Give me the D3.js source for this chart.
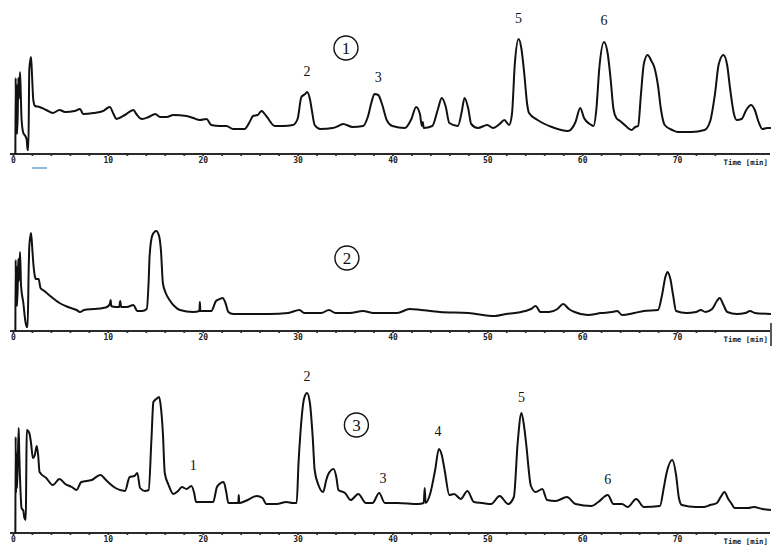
<!DOCTYPE html>
<html>
<head>
<meta charset="utf-8">
<script src="https://cdn.jsdelivr.net/npm/d3@7"></script>
<style>
  html, body { margin: 0; padding: 0; background: #fff; }
  svg { display: block; }
</style>
</head>
<body>
<div id="chart"></div>
<script>
const WIDTH = 772;
const HEIGHT = 557;

// [time (min), signal height]
const trace1 = [
  [0.25,0],[0.28,76],[0.32,30],[0.36,70],[0.42,20],[0.5,40],[0.56,76],[0.62,55],[0.74,82],[0.82,60],
  [0.9,35],[1.09,21],[1.3,18],[1.45,14],[1.54,4],[1.62,4],[1.72,85],[1.9,97],[2.0,80],[2.14,54],
  [2.32,48],[2.8,47],[3.5,44],[4.2,41],[4.9,44],[5.5,42],[6.5,43],[7.06,45],[7.4,40],[8.5,41],
  [9.5,43],[10.2,47],[10.6,40],[10.9,35],[11.8,39],[12.7,44],[13.0,40],[13.6,35],[14.3,37],[15.0,40],
  [15.5,37],[16.2,37],[16.9,39],[18.3,38],[19.0,36],[19.7,34],[20.4,35],[20.9,29],[21.8,28],[22.5,28],
  [23.2,25],[24.4,25],[25.0,33],[25.3,38],[25.8,39],[26.2,43],[26.7,38],[27.6,28],[28.5,28],[29.5,29],
  [30.0,35],[30.4,57],[30.8,60],[31.0,62],[31.3,55],[31.5,44],[31.8,29],[32.4,25],[33.7,26],[34.3,28],
  [34.8,30],[35.8,27],[36.9,28],[37.4,37],[37.8,52],[38.1,60],[38.5,59],[38.9,50],[39.4,34],[40.0,28],
  [41.3,26],[42.0,35],[42.5,47],[42.9,40],[43.1,28],[43.2,32],[43.3,26],[44.2,28],[44.8,45],[45.2,56],
  [45.6,48],[46.0,31],[46.9,28],[47.3,42],[47.6,56],[48.0,45],[48.3,30],[49.0,26],[50.0,29],[50.6,26],
  [51.3,30],[51.8,34],[52.3,29],[52.6,40],[52.9,90],[53.3,115],[53.6,105],[53.9,80],[54.2,50],[54.4,41],
  [55.3,34],[56.8,27],[58.5,23],[59.3,32],[59.8,46],[60.2,36],[60.8,30],[61.2,28],[61.5,45],[61.8,85],
  [62.3,112],[62.7,100],[63.0,75],[63.3,45],[63.6,36],[64.0,33],[64.6,28],[65.2,24],[65.6,27],[65.9,28],
  [66.2,60],[66.5,90],[66.9,99],[67.3,93],[67.6,87],[68.0,68],[68.3,45],[68.7,29],[69.5,24],[70.1,22],
  [71.5,22],[72.9,24],[73.5,33],[74.0,60],[74.4,90],[74.9,99],[75.3,88],[75.6,65],[76.0,40],[76.3,34],
  [76.8,35],[77.3,44],[77.8,49],[78.2,44],[78.6,32],[79.0,25],[79.5,26],[79.9,26]
];

const trace2 = [
  [0.25,0],[0.28,71],[0.32,30],[0.36,65],[0.42,25],[0.5,45],[0.56,72],[0.62,50],[0.74,79],[0.85,45],
  [1.09,28],[1.3,10],[1.45,4],[1.54,4],[1.65,60],[1.72,85],[1.9,98],[2.05,80],[2.14,68],[2.3,55],
  [2.4,52],[2.7,52],[2.9,43],[3.3,40],[3.8,36],[4.9,28],[5.8,24],[6.7,21],[7.06,19],[7.5,21],
  [8.5,22],[9.5,23],[9.9,24],[10.2,27],[10.3,31],[10.35,25],[10.8,24],[11.2,24],[11.3,30],[11.4,24],
  [12.0,24],[12.7,26],[13.1,20],[13.6,20],[14.1,22],[14.3,50],[14.4,75],[14.7,96],[15.1,100],[15.4,95],
  [15.6,80],[15.8,48],[16.1,38],[16.5,31],[17.0,25],[17.6,21],[19.0,19],[19.65,20],[19.7,29],[19.75,20],
  [20.3,20],[20.9,20],[21.4,30],[21.8,32],[22.1,33],[22.4,28],[22.7,19],[23.2,17],[25,17],[27,17],
  [29,18],[30.2,21],[30.7,18],[32.5,18],[33.3,21],[34.0,18],[35.5,18],[36.9,20],[38,18],[39.2,18],
  [40.5,18],[41.8,22],[43,21],[45,19],[48,18],[50.8,15],[52,17],[54,20],[54.6,22],[55.1,25],
  [55.6,19],[56.5,19],[57.4,22],[58.0,27],[58.6,22],[59.2,19],[60.6,16],[62,18],[63.2,19],[63.7,20],
  [64.2,16],[65.5,18],[66.5,20],[68.0,21],[68.4,35],[68.8,55],[69.0,59],[69.3,52],[69.6,35],[69.9,20],
  [71.0,18],[72.0,19],[72.5,21],[73.0,19],[73.7,22],[74.2,30],[74.5,33],[74.9,26],[75.3,19],[76.3,17],
  [77.2,18],[77.7,20],[78.2,18],[79.9,17]
];

const trace3 = [
  [0.25,0],[0.28,96],[0.32,40],[0.36,80],[0.42,45],[0.5,70],[0.6,105],[0.66,80],[0.72,60],[0.8,40],
  [0.9,25],[1.1,22],[1.2,15],[1.35,13],[1.4,60],[1.45,103],[1.6,102],[1.75,99],[1.9,90],[2.1,75],
  [2.3,78],[2.5,87],[2.65,78],[2.8,61],[3.5,55],[4.2,48],[4.9,54],[5.5,49],[6.2,46],[6.7,43],
  [7.2,51],[8.3,53],[9.2,58],[9.9,52],[10.8,45],[11.8,42],[12.3,56],[12.8,57],[13.1,60],[13.4,45],
  [13.9,42],[14.3,43],[14.6,95],[14.8,131],[15.1,134],[15.4,136],[15.6,125],[15.8,100],[16.0,60],[16.4,48],
  [16.9,39],[17.4,42],[17.8,46],[18.3,44],[18.8,47],[19.1,40],[19.3,31],[20.2,31],[21.1,31],[21.5,46],
  [21.9,50],[22.2,51],[22.5,40],[22.7,30],[23.3,30],[23.75,30],[23.8,38],[23.85,30],[24.5,32],[25.7,37],
  [26.3,35],[26.7,29],[27.8,29],[28.8,31],[29.5,30],[29.9,30],[30.1,70],[30.3,100],[30.7,135],[31.0,140],
  [31.3,130],[31.6,95],[31.8,63],[32.2,48],[32.7,41],[33.0,52],[33.2,58],[33.8,64],[34.1,55],[34.3,43],
  [35.0,40],[35.6,33],[36.4,39],[37.2,30],[37.9,30],[38.6,40],[39.2,30],[40.5,30],[42.7,29],[43.3,30],
  [43.4,45],[43.5,30],[44.0,40],[44.5,63],[44.9,84],[45.2,78],[45.5,63],[46.0,38],[46.5,39],[47.2,34],
  [47.9,42],[48.6,31],[49.5,30],[50.4,29],[51.3,37],[52.2,29],[52.8,36],[53.2,90],[53.6,120],[53.9,105],
  [54.1,89],[54.6,47],[55.1,41],[55.8,44],[56.3,33],[57.2,32],[58.4,36],[59.3,29],[61.0,27],[61.7,31],
  [62.7,38],[63.3,29],[64.2,29],[64.8,26],[65.7,34],[66.5,26],[68.2,27],[68.6,45],[68.9,60],[69.5,73],
  [69.9,58],[70.2,35],[70.5,28],[72.0,26],[72.8,26],[73.5,28],[74.2,30],[74.6,36],[75.0,41],[75.4,34],
  [75.7,30],[76.1,25],[77.5,25],[78.1,26],[79.0,24],[79.9,23]
];

// peak labels: [time, height, text]
const peaks1 = [[31.0, 83, '2'], [38.5, 77, '3'], [53.3, 136, '5'], [62.3, 134, '6']];
const peaks2 = [];
const peaks3 = [[19.0, 68, '1'], [31.0, 157, '2'], [39.0, 55, '3'], [44.8, 102, '4'], [53.6, 136, '5'], [62.7, 54, '6']];

// circled sample numbers: [time, height, text]
const sample1 = [35.1, 106, '1'];
const sample2 = [35.2, 73, '2'];
const sample3 = [36.2, 108, '3'];

const tickValues = d3.range(0, 76, 2);
const labelledTicks = [0, 10, 20, 30, 40, 50, 60, 70];
const axisTitle = 'Time [min]';

const panels = [
  {trace: trace1, peaks: peaks1, sample: sample1, axisY: 154},
  {trace: trace2, peaks: peaks2, sample: sample2, axisY: 331},
  {trace: trace3, peaks: peaks3, sample: sample3, axisY: 533},
];

const svg = d3.select('#chart').append('svg')
  .attr('width', WIDTH)
  .attr('height', HEIGHT)
  .attr('viewBox', `0 0 ${WIDTH} ${HEIGHT}`);

svg.append('rect').attr('width', WIDTH).attr('height', HEIGHT).attr('fill', '#fff');

const x = d3.scaleLinear().domain([0, 80]).range([13, 13 + 80 * 9.486]);

for (const p of panels) {
  const y = d3.scaleLinear().domain([0, 150]).range([p.axisY, p.axisY - 150]);
  const g = svg.append('g');

  // axis
  const axis = d3.axisBottom(x)
    .tickValues(tickValues)
    .tickSize(2)
    .tickSizeOuter(0)
    .tickPadding(1.5)
    .tickFormat(d => labelledTicks.includes(d) ? d : '');

  const ax = g.append('g')
    .attr('transform', `translate(0, ${p.axisY})`)
    .call(axis);

  ax.select('.domain').remove();
  ax.selectAll('.tick line')
    .attr('stroke', '#333')
    .attr('stroke-width', 1.8);
  ax.selectAll('.tick text')
    .attr('font-family', 'DejaVu Sans Mono, monospace')
    .attr('font-weight', 'bold')
    .attr('font-size', 8)
    .attr('fill', '#222');

  g.append('line')
    .attr('x1', 10).attr('x2', 770)
    .attr('y1', p.axisY).attr('y2', p.axisY)
    .attr('stroke', '#2a2a2a')
    .attr('stroke-width', 2);

  g.append('text')
    .attr('x', 768)
    .attr('y', p.axisY + 11)
    .attr('text-anchor', 'end')
    .attr('font-family', 'DejaVu Sans Mono, monospace')
    .attr('font-weight', 'bold')
    .attr('font-size', 7.4)
    .attr('fill', '#222')
    .text(axisTitle);

  // trace
  const line = d3.line()
    .x(d => x(d[0]))
    .y(d => y(d[1]))
    .curve(d3.curveMonotoneX);

  g.append('path')
    .datum(p.trace)
    .attr('fill', 'none')
    .attr('stroke', '#111')
    .attr('stroke-width', 2)
    .attr('stroke-linejoin', 'round')
    .attr('d', line);

  // peak numbers
  g.selectAll('.peak').data(p.peaks).enter().append('text')
    .attr('class', 'peak')
    .attr('x', d => x(d[0]))
    .attr('y', d => y(d[1]))
    .attr('dy', '0.35em')
    .attr('text-anchor', 'middle')
    .attr('font-family', 'Liberation Serif, serif')
    .attr('font-size', 14)
    .attr('fill', '#111')
    .text(d => d[2]);

  // circled sample number
  const [st, sh, sl] = p.sample;
  g.append('circle')
    .attr('cx', x(st))
    .attr('cy', y(sh))
    .attr('r', 12)
    .attr('fill', 'none')
    .attr('stroke', '#111')
    .attr('stroke-width', 1.4);
  g.append('text')
    .attr('x', x(st))
    .attr('y', y(sh))
    .attr('dy', '0.35em')
    .attr('text-anchor', 'middle')
    .attr('font-family', 'Liberation Serif, serif')
    .attr('font-size', 17)
    .attr('fill', '#111')
    .text(sl);
}

// small blue marker under the first axis
svg.append('line')
  .attr('x1', 32).attr('x2', 47)
  .attr('y1', 168).attr('y2', 168)
  .attr('stroke', '#7aa6d6')
  .attr('stroke-width', 1.6);

// right-edge bar on the second panel
svg.append('line')
  .attr('x1', 771).attr('x2', 771)
  .attr('y1', 323).attr('y2', 346)
  .attr('stroke', '#222')
  .attr('stroke-width', 1.5);
</script>
</body>
</html>
